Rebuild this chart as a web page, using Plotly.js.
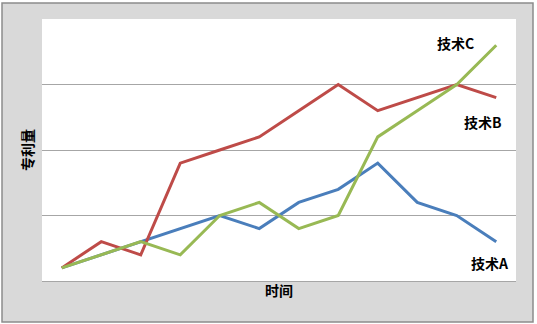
<!DOCTYPE html>
<html>
<head>
<meta charset="utf-8">
<script src="https://cdn.plot.ly/plotly-3.0.1.min.js"></script>
<style>
  html, body { margin: 0; padding: 0; background: #ffffff; }
  #chart { width: 537px; height: 324px; }
</style>
</head>
<body>
<div id="chart"></div>
<script>
// Time periods (no labels shown on the axis)
const periods = [1, 2, 3, 4, 5, 6, 7, 8, 9, 10, 11, 12];

// Patent counts per technology
const techA = [0.2, 0.4, 0.6, 0.8, 1.0, 0.8, 1.2, 1.4, 1.8, 1.2, 1.0, 0.6];
const techB = [0.2, 0.6, 0.4, 1.8, 2.0, 2.2, 2.6, 3.0, 2.6, 2.8, 3.0, 2.8];
const techC = [0.2, 0.4, 0.6, 0.4, 1.0, 1.2, 0.8, 1.0, 2.2, 2.6, 3.0, 3.6];

const seriesNames = ['技术A', '技术B', '技术C'];
const seriesColors = ['#4a7ebb', '#be4b48', '#98b954'];

const cjk = '"Noto Sans CJK SC", "Noto Sans", sans-serif';
const labelFont = { family: cjk, size: 14, color: '#000000', weight: 'bold' };

const traces = [techA, techB, techC].map((vals, i) => ({
  x: periods,
  y: vals,
  type: 'scatter',
  mode: 'lines',
  name: seriesNames[i],
  line: { color: seriesColors[i], width: 3 },
  hoverinfo: 'skip'
}));

const layout = {
  width: 537,
  height: 324,
  margin: { l: 42, r: 21, t: 19, b: 43 },
  paper_bgcolor: '#ffffff',
  plot_bgcolor: '#ffffff',
  showlegend: false,
  xaxis: {
    range: [0.5, 12.5],
    showgrid: false,
    zeroline: false,
    showticklabels: false,
    ticks: '',
    showline: true,
    linecolor: '#a6a6a6',
    linewidth: 1,
    title: { text: '时间', font: labelFont, standoff: 5 }
  },
  yaxis: {
    range: [0, 4],
    tickvals: [1, 2, 3],
    showgrid: true,
    gridcolor: '#a6a6a6',
    gridwidth: 1,
    zeroline: false,
    showticklabels: false,
    ticks: '',
    showline: false,
    title: { text: '专利量', font: labelFont, standoff: 4 }
  },
  shapes: [
    // grey outer chart frame
    {
      type: 'rect', xref: 'paper', yref: 'paper', layer: 'below',
      x0: -40 / 474, x1: 1 + 17 / 474, y0: -41 / 262, y1: 1 + 16 / 262,
      fillcolor: '#d9d9d9', line: { color: '#8c8c8c', width: 1.5 }
    },
    // white plotting area
    {
      type: 'rect', xref: 'paper', yref: 'paper', layer: 'below',
      x0: 0, x1: 1, y0: 0, y1: 1,
      fillcolor: '#ffffff', line: { width: 0 }
    }
  ],
  annotations: [
    { text: '技术C', x: 10.96, y: 3.63, xref: 'x', yref: 'y', showarrow: false, font: labelFont },
    { text: '技术B', x: 11.66, y: 2.43, xref: 'x', yref: 'y', showarrow: false, font: labelFont },
    { text: '技术A', x: 11.84, y: 0.27, xref: 'x', yref: 'y', showarrow: false, font: labelFont }
  ]
};

Plotly.newPlot('chart', traces, layout, { staticPlot: true, displayModeBar: false });
</script>
</body>
</html>
